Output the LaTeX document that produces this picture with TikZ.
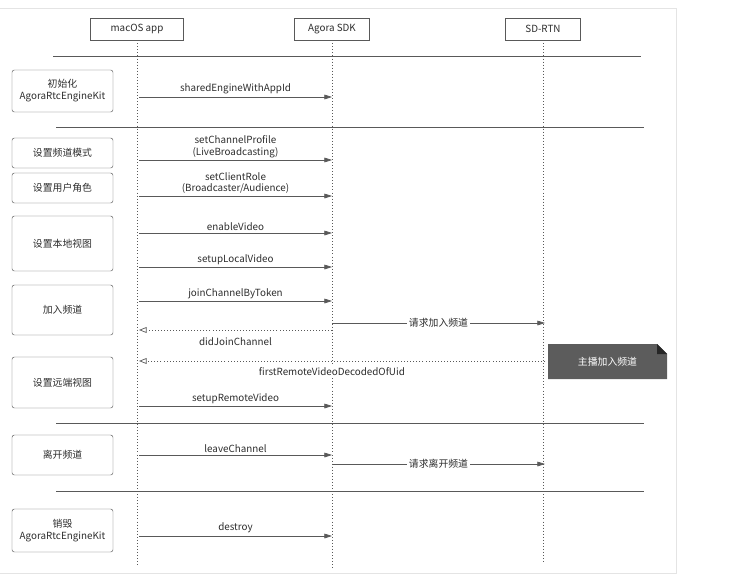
\documentclass[tikz,border=0pt]{standalone}
\usepackage{fontspec}
\setmainfont{Noto Sans CJK SC}
\usetikzlibrary{arrows.meta, positioning}
\definecolor{line1}{RGB}{89,89,89}
\definecolor{text1}{RGB}{45,45,45}
\definecolor{frame1}{RGB}{228,228,228}
\definecolor{note1}{RGB}{92,92,92}

\begin{document}
\begin{tikzpicture}[x=0.03cm, y=-0.03cm,
    every node/.style={font=\fontsize{8.4}{10.2}\selectfont, text=text1},
    actor/.style={draw=line1, fill=white, minimum width=2.25cm, minimum height=0.66cm, inner sep=1pt},
    stage/.style={draw=line1, rounded corners=2pt, minimum width=3.03cm, align=center, inner sep=1pt},
    lifeline/.style={dotted, line1, line width=0.6pt},
    divider/.style={line1, line width=0.8pt},
    msg/.style={-{Triangle[length=6.5pt,width=4pt]}, line1, line width=0.6pt},
    reply/.style={dotted, line1, line width=0.6pt, -{Triangle[open,length=6.5pt,width=5pt]}},
    label/.style={inner sep=1.5pt, align=center}
]
    \useasboundingbox (0,0) rectangle (732,586);
    \draw[frame1] (0,8) -- (676,8) -- (676,573) -- (0,573);

    % lifelines
    \node[actor, minimum width=2.79cm, name=app] at(137,29) {macOS app};
    \node[actor, name=sdk] at(332,29) {Agora SDK};
    \node[actor, name=rtn] at(543,29) {SD-RTN};
    \coordinate (app-end) at (137,565);
    \coordinate (sdk-end) at (332,568);
    \coordinate (rtn-end) at (545,563);
    \draw[lifeline] (app) -- (app-end);
    \draw[lifeline] (sdk) -- (sdk-end);
    \draw[lifeline] (rtn) -- (rtn |- rtn-end);

    \foreach \n/\y in {init/97, prof/160, role/196, enab/233, locl/267, join/301, req/323,
                       didj/330, first/361, remo/406, leave/455, reql/464, dest/536}
    {
        \coordinate (app-\n) at (139,\y);
        \coordinate (sdk-\n) at (332,\y);
        \coordinate (rtn-\n) at (545,\y);
    }

    \draw[divider] (53,56) -- (641,56);
    \draw[divider] (56,127) -- (644,127);
    \draw[divider] (56,423) -- (644,423);
    \draw[divider] (56,491) -- (644,491);

    % steps on the left
    \node[stage, minimum height=1.26cm, name=init] at(62.5,91) {初始化\\AgoraRtcEngineKit};
    \node[stage, minimum height=0.9cm, name=prof] at(62.5,153) {设置频道模式};
    \node[stage, minimum height=0.9cm, name=role] at(62.5,188) {设置用户角色};
    \node[stage, minimum height=1.65cm, name=view] at(62.5,243.5) {设置本地视图};
    \node[stage, minimum height=1.5cm, name=join] at(62.5,310) {加入频道};
    \node[stage, minimum height=1.53cm, name=remote] at(62.5,382.5) {设置远端视图};
    \node[stage, minimum height=1.2cm, name=leave] at(62.5,455) {离开频道};
    \node[stage, minimum height=1.29cm, name=dest] at(62.5,530.5) {销毁\\AgoraRtcEngineKit};

    \draw[msg] (app-init) -- node[label, above=1pt] {sharedEngineWithAppId} (sdk-init);
    \draw[msg] (app-prof) -- node[label, above] {setChannelProfile\\(LiveBroadcasting)} (sdk-prof);
    \draw[msg] (app-role) -- node[label, above] {setClientRole\\(Broadcaster/Audience)} (sdk-role);
    \draw[msg] (app-enab) -- node[label, above] {enableVideo} (sdk-enab);
    \draw[msg] (app-locl) -- node[label, above] {setupLocalVideo} (sdk-locl);
    \draw[msg] (app-join) -- node[label, above] {joinChannelByToken} (sdk-join);
    \draw[msg] (sdk-req) -- node[label, fill=white] {请求加入频道} (rtn-req);
    \draw[reply] (sdk-didj) -- node[label, below=5pt] {didJoinChannel} (app-didj);
    \draw[reply] (rtn-first) -- node[label, below=3.5pt, pos=0.525, fill=white] {firstRemoteVideoDecodedOfUid} (app-first);
    \draw[msg] (app-remo) -- node[label, above] {setupRemoteVideo} (sdk-remo);
    \draw[msg] (app-leave) -- node[label, above] {leaveChannel} (sdk-leave);
    \draw[msg] (sdk-reql) -- node[label, fill=white] {请求离开频道} (rtn-reql);
    \draw[msg] (app-dest) -- node[label, above=1pt] {destroy} (sdk-dest);

    % note
    \fill[note1] (548,344) -- (657,344) -- (667,354) -- (667,379) -- (548,379) -- cycle;
    \fill[black!85] (657,344) -- (667,354) -- (657,354) -- cycle;
    \node[text=white, name=note] at(607.5,362) {主播加入频道};
\end{tikzpicture}
\end{document}
